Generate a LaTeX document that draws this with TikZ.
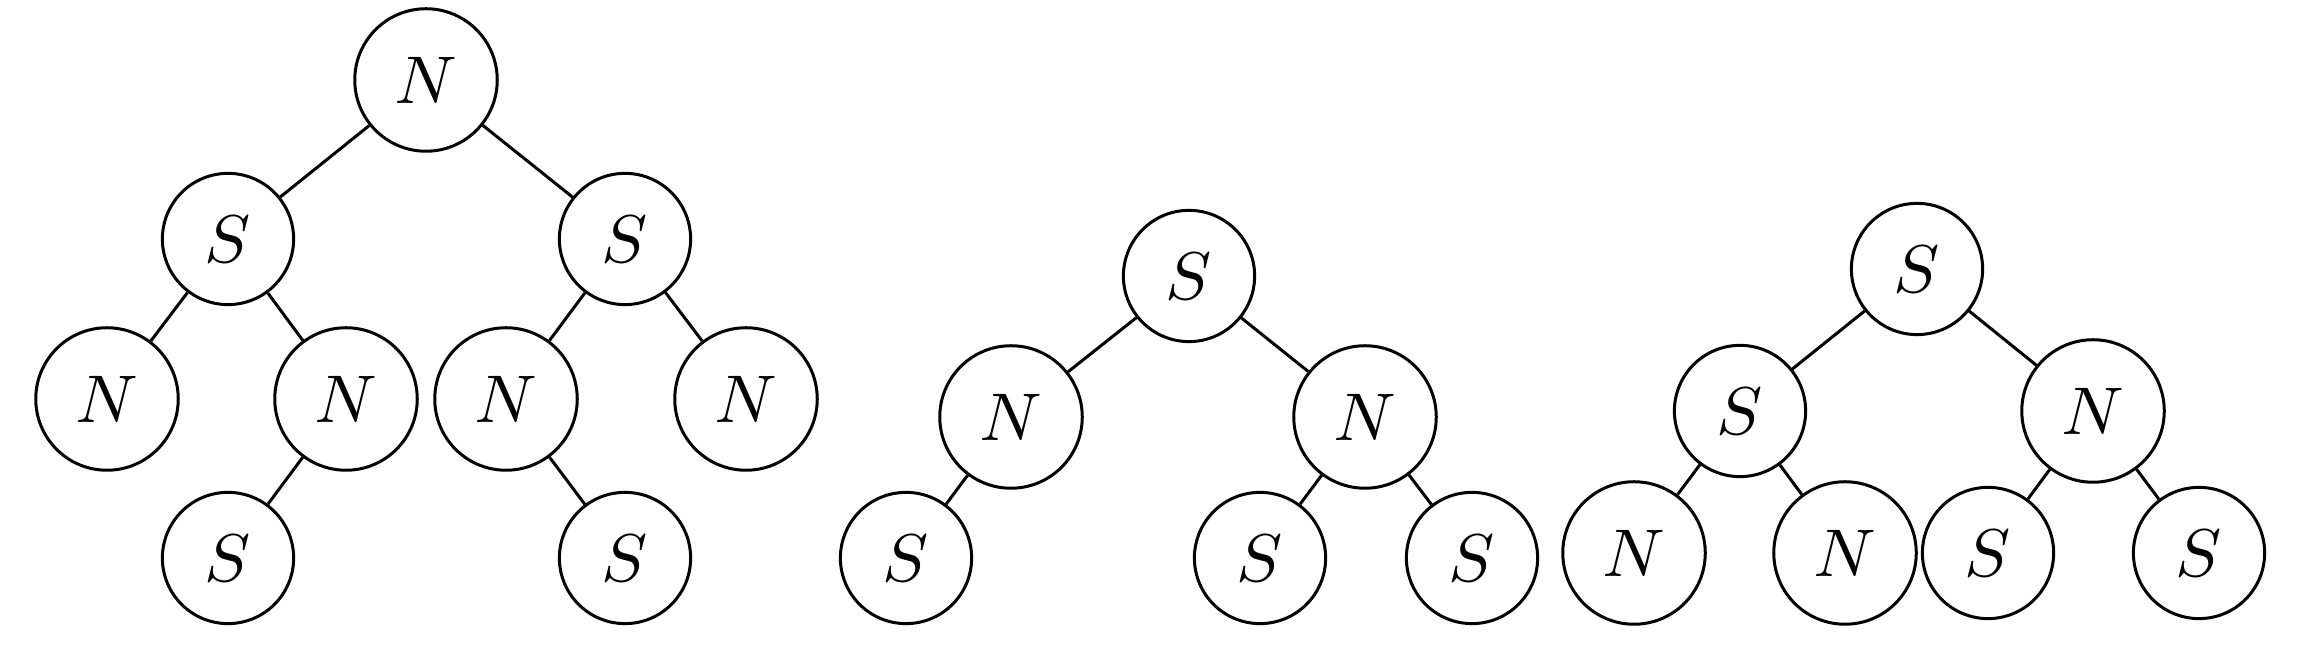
\documentclass[tikz,border=0pt]{standalone}
\begin{document}
\begin{tikzpicture}[x=0.13333pt,y=-0.13333pt,
  tnode/.style={circle,draw,line width=0.4pt,inner sep=0pt,font=\fontsize{9}{11}\selectfont},
  nn/.style={tnode,minimum size=19pt},
  ss/.style={tnode,minimum size=17.5pt},
  edge/.style={line width=0.4pt}]
\useasboundingbox (0,0) rectangle (2302,661);
% Tree 1
\node[nn] (a0) at (426,80) {$N$};
\node[ss] (a1) at (228,239) {$S$};
\node[ss] (a2) at (625,239) {$S$};
\node[nn] (a3) at (107,399) {$N$};
\node[nn] (a4) at (346,399) {$N$};
\node[nn] (a5) at (506,399) {$N$};
\node[nn] (a6) at (746,399) {$N$};
\node[ss] (a7) at (228,558) {$S$};
\node[ss] (a8) at (625,558) {$S$};
\draw[edge] (a0) -- (a1);
\draw[edge] (a0) -- (a2);
\draw[edge] (a1) -- (a3);
\draw[edge] (a1) -- (a4);
\draw[edge] (a2) -- (a5);
\draw[edge] (a2) -- (a6);
\draw[edge] (a4) -- (a7);
\draw[edge] (a5) -- (a8);
% Tree 2
\node[ss] (b0) at (1189,276) {$S$};
\node[nn] (b1) at (1011,417) {$N$};
\node[nn] (b2) at (1365,417) {$N$};
\node[ss] (b3) at (906,558) {$S$};
\node[ss] (b4) at (1260,558) {$S$};
\node[ss] (b5) at (1472,558) {$S$};
\draw[edge] (b0) -- (b1);
\draw[edge] (b0) -- (b2);
\draw[edge] (b1) -- (b3);
\draw[edge] (b2) -- (b4);
\draw[edge] (b2) -- (b5);
% Tree 3
\node[ss] (c0) at (1917,269) {$S$};
\node[ss] (c1) at (1740,411) {$S$};
\node[nn] (c2) at (2093,411) {$N$};
\node[nn] (c3) at (1634,553) {$N$};
\node[nn] (c4) at (1845,553) {$N$};
\node[ss] (c5) at (1988,553) {$S$};
\node[ss] (c6) at (2199,553) {$S$};
\draw[edge] (c0) -- (c1);
\draw[edge] (c0) -- (c2);
\draw[edge] (c1) -- (c3);
\draw[edge] (c1) -- (c4);
\draw[edge] (c2) -- (c5);
\draw[edge] (c2) -- (c6);
\end{tikzpicture}
\end{document}
